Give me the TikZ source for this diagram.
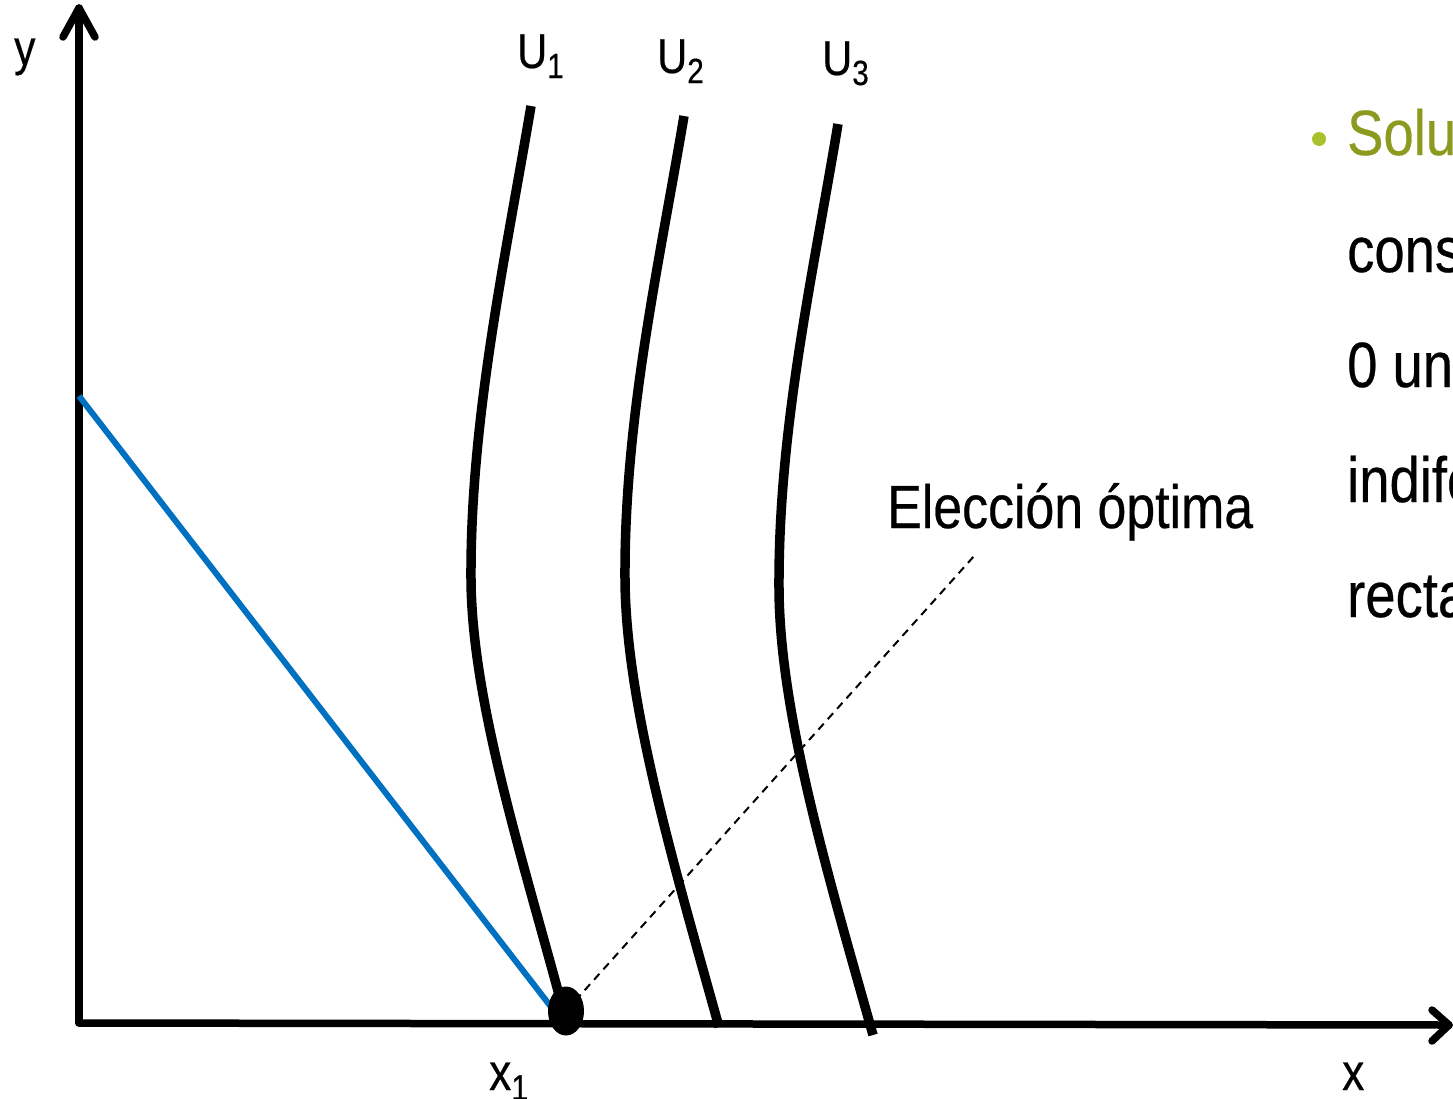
\documentclass[tikz,border=0pt]{standalone}
\usepackage{fontspec}
\usetikzlibrary{shapes.geometric}
\setmainfont{Liberation Sans}[FakeStretch=0.85,FakeBold=0.4]
\definecolor{budget}{HTML}{0070C0}
\definecolor{olive}{HTML}{8C9A1F}
\definecolor{bulletc}{HTML}{A9C12C}
\begin{document}
\begin{tikzpicture}[x=1pt,y=-1pt,
  axis/.style={line width=7.5pt,line cap=round,line join=round},
  indiff/.style={line width=9.5pt},
  lbl/.style={inner sep=0pt,anchor=base west},
  rtext/.style={inner sep=0pt,anchor=base west,font=\fontsize{64}{70}\selectfont}]
\useasboundingbox (0,0) rectangle (1453,1098);
\clip (0,0) rectangle (1453,1098);
% axes
\coordinate (O) at (79,1023);
\coordinate (ytip) at (79,8);
\coordinate (xtip) at (1449,1025);
\draw[axis] (O) -- (ytip);
\draw[axis] (63,37) -- (ytip) -- (95,37);
\draw[axis] (O) -- (xtip);
\draw[axis] (1432,1010) -- (xtip) -- (1432,1041);
% budget line
\coordinate (B0) at (79,396);
\coordinate (B1) at (555,1012);
\draw[budget,line width=6pt] (B0) -- (B1);
% indifference curves
\coordinate (u1t) at (531,106);
\coordinate (u1b) at (561,1002);
\coordinate (u2t) at (684,116);
\coordinate (u2b) at (719,1027);
\coordinate (u3t) at (838,124);
\coordinate (u3b) at (873,1035);
\draw[indiff] (u1t) .. controls (505,260) and (470,420) .. (471,580)
  .. controls (472,700) and (520,850) .. (u1b);
\draw[indiff] (u2t) .. controls (658,270) and (624,420) .. (625,580)
  .. controls (626,705) and (674,865) .. (u2b);
\draw[indiff] (u3t) .. controls (812,280) and (778,430) .. (779,590)
  .. controls (780,715) and (828,875) .. (u3b);
% optimum dot
\node[draw=none,fill=black,ellipse,minimum width=36pt,minimum height=49pt,inner sep=0pt] (opt) at (566,1011) {};
% dashed pointer
\coordinate (lblpt) at (975,555);
\draw[line width=2pt,dash pattern=on 8pt off 6pt] (opt.center) -- (lblpt);
% labels
\node[lbl,font=\fontsize{50}{55}\selectfont] (ylab) at (14,65) {y};
\node[lbl,font=\fontsize{52}{55}\selectfont] (xlab) at (1342,1090) {x};
\node[lbl,font=\fontsize{52}{55}\selectfont] (x1lab) at (489,1090) {x\raisebox{-10pt}{\fontsize{36}{36}\selectfont 1}};
\node[lbl,font=\fontsize{49}{55}\selectfont] (U1) at (517,68) {U\raisebox{-10pt}{\fontsize{35}{36}\selectfont 1}};
\node[lbl,font=\fontsize{49}{55}\selectfont] (U2) at (657,73) {U\raisebox{-10pt}{\fontsize{35}{36}\selectfont 2}};
\node[lbl,font=\fontsize{49}{55}\selectfont] (U3) at (822,75) {U\raisebox{-10pt}{\fontsize{35}{36}\selectfont 3}};
\node[lbl,font=\fontsize{61}{70}\selectfont] (eo) at (887,528) {Elección óptima};
% right-hand text (cut by the frame)
\fill[bulletc] (1319,139) circle (7pt);
\node[rtext,text=olive] (t1) at (1347,155) {Soluc};
\node[rtext] (t2) at (1347,272) {cons};
\node[rtext] (t3) at (1347,387) {0 uni};
\node[rtext] (t4) at (1347,502) {indife};
\node[rtext] (t5) at (1347,617) {recta};
\end{tikzpicture}
\end{document}
